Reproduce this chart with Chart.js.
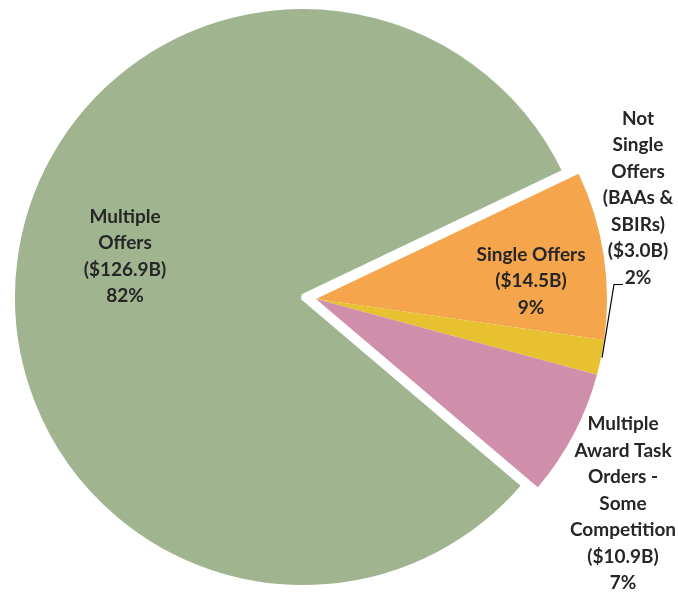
<!DOCTYPE html>
<html><head><meta charset="utf-8">
<script src="https://cdn.jsdelivr.net/npm/chart.js@4.4.1/dist/chart.umd.min.js"></script>
<style>html,body{margin:0;padding:0;background:#fff;} #wrap{width:678px;height:597px;position:relative;}</style>
</head><body><div id="wrap"><canvas id="c"></canvas></div>
<script>
// ---- data ----
const categories = ["Single Offers", "Not Single Offers (BAAs & SBIRs)", "Multiple Award Task Orders - Some Competition", "Multiple Offers"];
const valuesB = [14.5, 3.0, 10.9, 126.9];
const nameLines = [
  ["Single Offers"],
  ["Not", "Single", "Offers", "(BAAs &", "SBIRs)"],
  ["Multiple", "Award Task", "Orders -", "Some", "Competition"],
  ["Multiple", "Offers"]
];
const colors = ["#F5A54B", "#E8C130", "#CF8FAA", "#A0B48F"];

// ---- layout (not data) ----
const groupShift = {dx: 13, dy: 2};           // exploded group of the three small slices
const labelOffset = [                          // label centre relative to slice centre
  {dx: 215, dy: -18}, {dx: 322, dy: -101}, {dx: 307, dy: 204.5}, {dx: -178, dy: -40.5}
];
const LINE_H = 26.5;

const total = valuesB.reduce((a, b) => a + b, 0);

const explodeGroup = {
  id: 'explodeGroup',
  beforeDatasetsDraw(chart) {
    const ca = chart.chartArea;
    const cx = (ca.left + ca.right) / 2, cy = (ca.top + ca.bottom) / 2;
    chart.getDatasetMeta(0).data.forEach((el, i) => {
      if (i < 3) { el.x = cx + groupShift.dx; el.y = cy + groupShift.dy; }
      else { el.x = cx; el.y = cy; }
    });
  }
};

const sliceLabels = {
  id: 'sliceLabels',
  afterDatasetsDraw(chart) {
    const ctx = chart.ctx;
    const meta = chart.getDatasetMeta(0);
    ctx.save();
    ctx.font = 'bold 19px Lato, "Open Sans", sans-serif';
    ctx.fillStyle = '#262626';
    ctx.textAlign = 'center';
    ctx.textBaseline = 'middle';
    meta.data.forEach((el, i) => {
      const pct = Math.round(valuesB[i] / total * 100) + '%';
      const lines = nameLines[i].concat(['($' + valuesB[i].toFixed(1) + 'B)', pct]);
      const x = el.x + labelOffset[i].dx, y = el.y + labelOffset[i].dy;
      const y0 = y - (lines.length - 1) * LINE_H / 2;
      lines.forEach((t, k) => ctx.fillText(t, x, y0 + k * LINE_H));
      if (i === 1) {
        const mid = (el.startAngle + el.endAngle) / 2;
        const px = el.x + (el.outerRadius + 1) * Math.cos(mid);
        const py = el.y + (el.outerRadius + 1) * Math.sin(mid);
        const ly = y0 + (lines.length - 1) * LINE_H + 7;
        ctx.strokeStyle = '#000';
        ctx.lineWidth = 1.2;
        ctx.beginPath();
        ctx.moveTo(px, py);
        ctx.lineTo(x - 24, ly);
        ctx.lineTo(x - 15, ly);
        ctx.stroke();
      }
    });
    ctx.restore();
  }
};

new Chart(document.getElementById('c'), {
  type: 'pie',
  data: {
    labels: categories,
    datasets: [{
      data: valuesB,
      backgroundColor: colors,
      borderColor: '#ffffff',
      borderWidth: [0, 0, 0, 6],
      radius: 291
    }]
  },
  options: {
    responsive: true,
    maintainAspectRatio: false,
    animation: false,
    rotation: 64.5,
    layout: {padding: {left: 0, right: 72, top: 0, bottom: 3}},
    plugins: {legend: {display: false}, tooltip: {enabled: false}, title: {display: false}}
  },
  plugins: [explodeGroup, sliceLabels]
});
</script>
</body></html>
